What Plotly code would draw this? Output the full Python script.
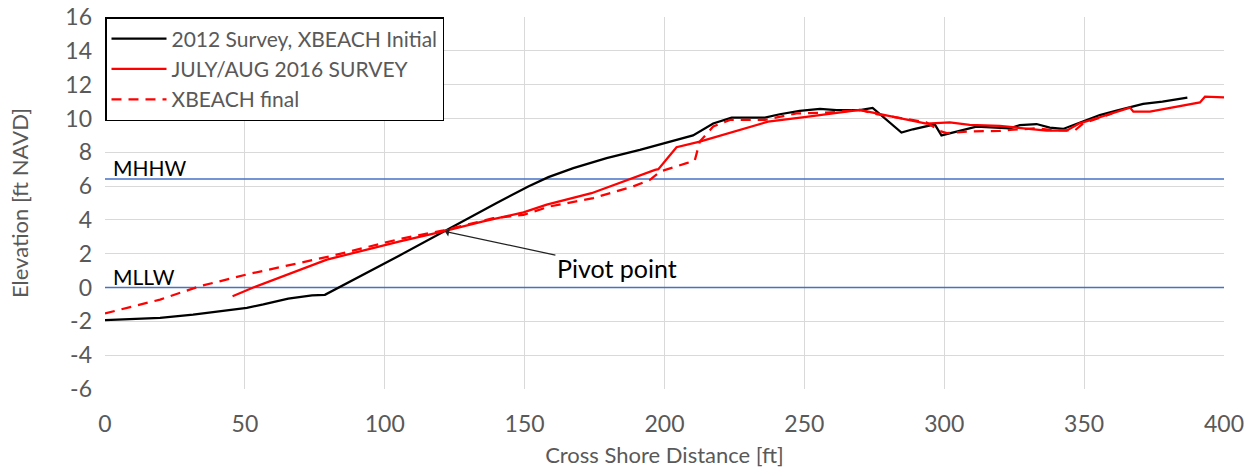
import plotly.graph_objects as go

# ---- data ----
x_2012 = [0, 19.7, 31.5, 44.7, 50.7, 56.6, 61.4, 65.5, 74, 78.6, 105.3, 121, 140, 151.3, 158.5,
          167.4, 179.3, 191.2, 194.8, 210.2, 217.4, 224, 235.9, 241.2, 248.3, 255.6, 261.5, 269.8,
          274.4, 278.2, 284.7, 288.8, 296.6, 299, 306.3, 311.5, 323.5, 327, 333, 337.7, 342.5,
          349.6, 355.6, 361.6, 371.1, 378, 384.3, 386.9]
y_2012 = [-1.93, -1.8, -1.6, -1.34, -1.2, -1.0, -0.81, -0.65, -0.47, -0.43, 1.9, 3.32, 5.0, 5.98, 6.53,
          7.06, 7.65, 8.14, 8.3, 9.0, 9.7, 10.05, 10.05, 10.25, 10.45, 10.56, 10.5, 10.5,
          10.62, 10.1, 9.17, 9.36, 9.65, 9.0, 9.32, 9.52, 9.42, 9.6, 9.67, 9.46, 9.38,
          9.85, 10.2, 10.46, 10.86, 10.99, 11.13, 11.23]

x_2016 = [45.6, 53, 79.3, 93.4, 105.4, 120.9, 135.2, 149.6, 157.9, 173.9, 186.5, 196.6, 197.8,
          204.3, 212.6, 237, 250.7, 269.8, 275.8, 285.3, 293.6, 302, 309.1, 319.8, 325.7, 336.6,
          343.7, 348.4, 355.6, 366.4, 367.6, 373.5, 391.4, 393.2, 400]
y_2016 = [-0.51, 0, 1.65, 2.24, 2.73, 3.32, 3.91, 4.45, 4.9, 5.58, 6.37, 6.96, 7.0,
          8.3, 8.63, 9.81, 10.1, 10.5, 10.3, 10.0, 9.7, 9.77, 9.62, 9.56, 9.47, 9.28,
          9.28, 9.71, 10.07, 10.64, 10.4, 10.4, 10.95, 11.29, 11.25]

x_xb = [0, 19.7, 33.9, 50.6, 81.5, 105.3, 121, 138.8, 149.6, 159.1, 174.5, 188.8, 194.8, 198.4,
        207.9, 210.8, 212.6, 217.4, 223.4, 235.9, 247.2, 258, 269.8, 275.8, 285.3, 293.6, 298.4,
        300.9, 309.1, 319.8, 323.5, 333, 337.7, 346.6, 349.6, 355.6, 360]
y_xb = [-1.53, -0.71, 0.08, 0.77, 1.89, 2.87, 3.38, 4.1, 4.3, 4.8, 5.29, 5.98, 6.37, 6.86,
        7.36, 7.5, 8.63, 9.52, 9.91, 9.91, 10.3, 10.34, 10.5, 10.25, 10.0, 9.77, 9.26,
        9.13, 9.23, 9.26, 9.32, 9.42, 9.32, 9.28, 9.7, 10.07, 10.3]

x_ticks = list(range(0, 401, 50))
y_ticks = list(range(-6, 17, 2))
y_tick_text = [str(v) for v in y_ticks]

datum_x = [0, 400]
mhhw = 6.42
mllw = 0.0
pivot = (121.5, 3.32)

FONT = "Lato"
GRAY = "#595959"

fig = go.Figure()
fig.add_trace(go.Scatter(x=datum_x, y=[mhhw, mhhw], mode="lines", showlegend=False,
                         line=dict(color="#4472C4", width=1.5), hoverinfo="skip"))
fig.add_trace(go.Scatter(x=datum_x, y=[mllw, mllw], mode="lines", showlegend=False,
                         line=dict(color="#4472C4", width=1.5), hoverinfo="skip"))
fig.add_trace(go.Scatter(x=x_2012, y=y_2012, mode="lines", name="2012 Survey, XBEACH Initial",
                         line=dict(color="black", width=2.25)))
fig.add_trace(go.Scatter(x=x_2016, y=y_2016, mode="lines", name="JULY/AUG 2016 SURVEY",
                         line=dict(color="#FF0000", width=2.25)))
fig.add_trace(go.Scatter(x=x_xb, y=y_xb, mode="lines", name="XBEACH final",
                         line=dict(color="#FF0000", width=2.25, dash="10px,7px")))

fig.add_annotation(x=2, y=mhhw, text="MHHW", showarrow=False, xanchor="left", yanchor="bottom",
                   yshift=-3, font=dict(family=FONT, size=21, color="black"))
fig.add_annotation(x=2, y=mllw, text="MLLW", showarrow=False, xanchor="left", yanchor="bottom",
                   yshift=-3, font=dict(family=FONT, size=21, color="black"))
fig.add_annotation(x=pivot[0], y=pivot[1], text="Pivot point", showarrow=True,
                   ax=172, ay=37, arrowhead=1, arrowsize=1.2, arrowwidth=1.2, arrowcolor="#222222",
                   font=dict(family=FONT, size=25, color="black"))

fig.update_layout(
    width=1250, height=469,
    margin=dict(l=105, r=26, t=17, b=80, autoexpand=False),
    paper_bgcolor="white", plot_bgcolor="white",
    font=dict(family=FONT, size=22, color=GRAY),
    legend=dict(x=0, y=1, xanchor="left", yanchor="top", bgcolor="white",
                bordercolor="black", borderwidth=1.5, itemwidth=55,
                font=dict(family=FONT, size=21, color=GRAY)),
    xaxis=dict(range=[0, 400], tickvals=x_ticks, showgrid=True, automargin=False,
               gridcolor="#D9D9D9", gridwidth=1, zeroline=False, showline=False,
               ticks="", ticklabelstandoff=19, ticklabeloverflow="allow",
               title=dict(text="Cross Shore Distance [ft]", font=dict(size=22, color=GRAY), standoff=11),
               tickfont=dict(size=23, color=GRAY)),
    yaxis=dict(range=[-6, 16], tickvals=y_ticks, ticktext=y_tick_text, showgrid=True, automargin=False,
               gridcolor="#D9D9D9", gridwidth=1, zeroline=False, showline=False,
               ticks="", ticklabelstandoff=12, ticklabeloverflow="allow",
               title=dict(text="Elevation [ft NAVD]", font=dict(size=22, color=GRAY), standoff=30),
               tickfont=dict(size=23, color=GRAY)),
)

# remove the default 8px page margin so the figure fills the window exactly
fig.write_html("out.html", config={"displayModeBar": False},
               post_script="document.body.style.margin='0';")
